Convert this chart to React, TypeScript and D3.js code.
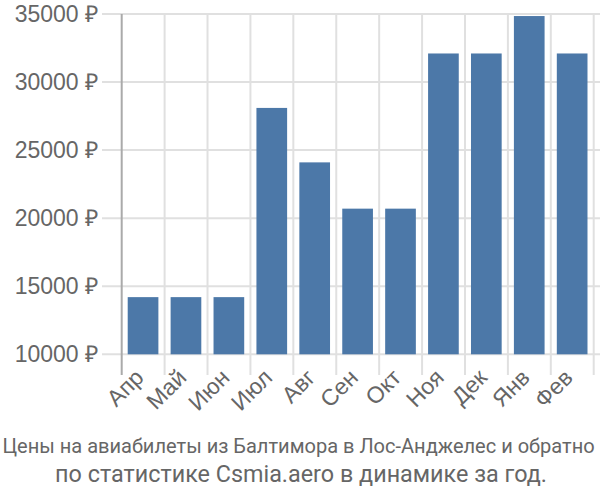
import React, { useLayoutEffect, useRef, useState } from "react";
import * as d3 from "d3";

const months = ["Апр", "Май", "Июн", "Июл", "Авг", "Сен", "Окт", "Ноя", "Дек", "Янв", "Фев"];
const prices = [14200, 14200, 14200, 28100, 24100, 20700, 20700, 32100, 32100, 34850, 32100];
const yTicks = [10000, 15000, 20000, 25000, 30000, 35000];
const titleLines = [
  "Цены на авиабилеты из Балтимора в Лос-Анджелес и обратно",
  "по статистике Csmia.aero в динамике за год.",
];

export default function App() {
  const W = 600, H = 500;
  const left = 121.7, right = 593.5, top = 14, bottom = 354.3;
  const x = d3.scaleBand<string>().domain(months).range([left, right]).paddingInner(0.285).paddingOuter(0.14);
  const y = d3.scaleLinear().domain([10000, 35000]).range([bottom, top]);
  const step = x.step();
  const bounds = d3.range(months.length + 1).map((i) => left + i * step);
  const font = "'Liberation Sans', Arial, sans-serif";
  const titleFont = "Roboto, sans-serif";
  const titlePos = [
    { cx: 298.5, y: 453, len: 592, size: 21 },
    { cx: 301, y: 482, len: 492, size: 23 },
  ];
  const refs = [useRef<SVGTextElement>(null), useRef<SVGTextElement>(null)];
  const [scales, setScales] = useState<number[]>([0.95, 1.05]);
  useLayoutEffect(() => {
    const s = refs.map((r, i) => {
      const el = r.current;
      if (!el) return 1;
      const w = el.getComputedTextLength();
      return w > 0 ? titlePos[i].len / w : 1;
    });
    setScales(s);
  }, []);
  return (
    <svg width={W} height={H} style={{ position: "absolute", left: 0, top: 0 }}>
      {yTicks.map((t) => (
        <g key={t}>
          <line x1={102} x2={600} y1={y(t)} y2={y(t)} stroke="#e0e0e0" strokeWidth={2} />
          <text x={98} y={y(t)} dy="0.35em" textAnchor="end" fontFamily={font} fontSize={23} fill="#666">
            {t} ₽
          </text>
        </g>
      ))}
      {bounds.slice(1).map((b, i) => (
        <line key={i} x1={b} x2={b} y1={top} y2={375} stroke="#e0e0e0" strokeWidth={2} />
      ))}
      <line x1={left} x2={left} y1={top} y2={375} stroke="#aaa" strokeWidth={2} />
      {months.map((m, i) => (
        <rect key={m} x={x(m)} y={y(prices[i])} width={x.bandwidth()} height={bottom - y(prices[i])} fill="#4c78a8" />
      ))}
      {months.map((m) => {
        const cx = (x(m) as number) + x.bandwidth() / 2 + 2;
        const cy = 379;
        return (
          <text key={m} x={cx} y={cy} textAnchor="end" transform={`rotate(-45 ${cx} ${cy})`}
            fontFamily={font} fontSize={23} fill="#666">
            {m}
          </text>
        );
      })}
      {titleLines.map((l, i) => (
        <text key={i} ref={refs[i]} x={0} y={0} textAnchor="middle"
          transform={`translate(${titlePos[i].cx},${titlePos[i].y}) scale(${scales[i]},1)`}
          fontFamily={titleFont} fontSize={titlePos[i].size} fill="#666">
          {l}
        </text>
      ))}
    </svg>
  );
}
